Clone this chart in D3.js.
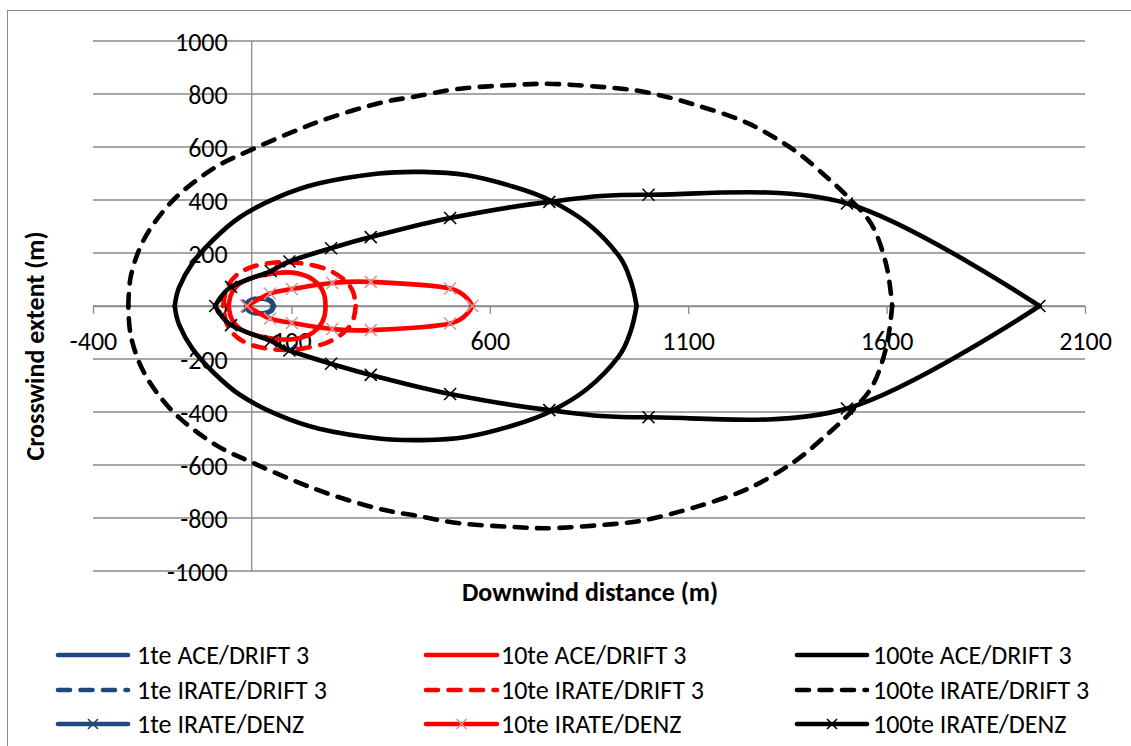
<!DOCTYPE html>
<html>
<head>
<meta charset="utf-8">
<script src="https://cdn.jsdelivr.net/npm/d3@7"></script>
<style>
  body { margin: 0; background: #fff; }
  svg { display: block; }
  text { font-family: Carlito, Lato, "Open Sans", sans-serif; fill: #000; }
</style>
</head>
<body>
<svg id="chart" width="1131" height="746"></svg>
<script>
// Axis ticks
const xTicks = [-400, 100, 600, 1100, 1600, 2100];
const yTicks = [-1000, -800, -600, -400, -200, 0, 200, 400, 600, 800, 1000];

// Hazard contours: [downwind distance (m), crosswind extent (m)], traced round each loop
const ace1 = [[-12,0],[-7,17],[8,26],[30,27],[47,18],[54,0],[47,-18],[30,-27],[8,-26],[-7,-17],[-12,0]];
const ace10 = [[-58,0],[-50,50],[-25,90],[20,114],[90,127],[140,112],[170,78],[183,40],[186,0],
               [183,-40],[170,-78],[140,-112],[90,-127],[20,-114],[-25,-90],[-50,-50],[-58,0]];
const ace100 = [[-194,0],[-183,70],[-150,160],[-97,250],[-30,335],[65,410],[170,463],[320,500],[430,506],
                [540,494],[660,450],[750,400],[845,313],[925,190],[955,95],[970,0],
                [955,-95],[925,-190],[845,-313],[750,-400],[660,-450],[540,-494],[430,-506],[320,-500],
                [170,-463],[65,-410],[-30,-335],[-97,-250],[-150,-160],[-183,-70],[-194,0]];

const irate1 = [[-13,0],[-8,18],[8,27],[31,28],[49,19],[56,0],[49,-19],[31,-28],[8,-27],[-8,-18],[-13,0]];
const irate10 = [[-72,0],[-62,70],[-35,120],[10,152],[70,165],[130,160],[190,138],[232,100],[255,55],[262,0],
                 [255,-55],[232,-100],[190,-138],[130,-160],[70,-165],[10,-152],[-35,-120],[-62,-70],[-72,0]];
const irate100 = [[-311,0],[-305,110],[-280,225],[-240,325],[-180,425],[-90,525],[0,590],[100,655],[200,712],
                  [320,765],[410,790],[525,820],[660,834],[760,838],[910,823],[1000,805],[1120,758],[1250,690],
                  [1365,590],[1450,485],[1510,400],[1565,300],[1600,150],[1614,0],
                  [1600,-150],[1565,-300],[1510,-400],[1450,-485],[1365,-590],[1250,-690],[1120,-758],[1000,-805],
                  [910,-823],[760,-838],[660,-834],[525,-820],[410,-790],[320,-765],[200,-712],[100,-655],
                  [0,-590],[-90,-525],[-180,-425],[-240,-325],[-280,-225],[-305,-110],[-311,0]];

const denz1 = [[-12,0],[-9,2],[-6,0],[-9,-2],[-12,0]];
const denz10 = [[-12,0],[46,47],[101,64],[203,87],[300,91],[500,66],[556,0],
                [500,-66],[300,-91],[203,-87],[101,-64],[46,-47],[-12,0]];
const denz100 = [[-92,0],[-52,72],[48,132],[95,168],[200,218],[300,260],[500,332],[750,393],[1000,420],
                 [1500,387],[1985,0],
                 [1500,-387],[1000,-420],[750,-393],[500,-332],[300,-260],[200,-218],[95,-168],[48,-132],
                 [-52,-72],[-92,0]];

const seriesNames = ["1te ACE/DRIFT 3", "10te ACE/DRIFT 3", "100te ACE/DRIFT 3",
                     "1te IRATE/DRIFT 3", "10te IRATE/DRIFT 3", "100te IRATE/DRIFT 3",
                     "1te IRATE/DENZ", "10te IRATE/DENZ", "100te IRATE/DENZ"];

const BLUE = "#1F497D", RED = "#FF0000", PINK = "#D99694", BLACK = "#000000";
const series = [
  { name: seriesNames[0], pts: ace1,     color: BLUE,  dashed: false, marker: null },
  { name: seriesNames[1], pts: ace10,    color: RED,   dashed: false, marker: null },
  { name: seriesNames[2], pts: ace100,   color: BLACK, dashed: false, marker: null },
  { name: seriesNames[3], pts: irate1,   color: BLUE,  dashed: true,  marker: null },
  { name: seriesNames[4], pts: irate10,  color: RED,   dashed: true,  marker: null },
  { name: seriesNames[5], pts: irate100, color: BLACK, dashed: true,  marker: null },
  { name: seriesNames[6], pts: denz1,    color: BLUE,  dashed: false, marker: BLUE },
  { name: seriesNames[7], pts: denz10,   color: RED,   dashed: false, marker: PINK },
  { name: seriesNames[8], pts: denz100,  color: BLACK, dashed: false, marker: BLACK }
];

const svg = d3.select("#chart");
const FONT = 26;
const GRID = "#8a8a8a";
const LW = 4.6;
const DASH = "12 10.5";
const numFmt = d => String(d);

// chart frame
svg.append("rect").attr("x", 7.5).attr("y", 10.5).attr("width", 1200).attr("height", 800)
  .attr("fill", "none").attr("stroke", GRID).attr("stroke-width", 1);

const x = d3.scaleLinear().domain([-400, 2100]).range([93, 1085]);
const y = d3.scaleLinear().domain([-1000, 1000]).range([571, 41]);

// horizontal gridlines
svg.append("g").selectAll("line").data(yTicks).join("line")
  .attr("x1", x(-400)).attr("x2", x(2100))
  .attr("y1", d => y(d)).attr("y2", d => y(d))
  .attr("stroke", GRID).attr("stroke-width", 1.3);

// vertical axis through x = 0
svg.append("line").attr("x1", x(0)).attr("x2", x(0)).attr("y1", y(1000)).attr("y2", y(-1000))
  .attr("stroke", GRID).attr("stroke-width", 1.3);

// horizontal axis through y = 0 with outward tick marks
const xAxis = d3.axisBottom(x).tickValues(xTicks).tickSize(8).tickSizeOuter(0).tickFormat(numFmt);
const gx = svg.append("g").attr("transform", `translate(0,${y(0)})`).call(xAxis);
gx.select(".domain").attr("stroke", GRID).attr("stroke-width", 1.3);
gx.selectAll(".tick line").attr("stroke", GRID).attr("stroke-width", 1.3);
gx.selectAll(".tick text").attr("font-size", FONT).attr("y", 35).attr("dy", "0.35em")
  .attr("font-family", "Carlito, Lato, sans-serif").attr("fill", "#000");

// vertical tick labels beside the x = 0 axis
const yAxis = d3.axisLeft(y).tickValues(yTicks).tickSize(0).tickFormat(numFmt);
const gy = svg.append("g").attr("transform", `translate(${x(0)},0)`).call(yAxis);
gy.select(".domain").remove();
gy.selectAll(".tick text").attr("font-size", FONT).attr("x", -24).attr("dy", "0.35em")
  .attr("font-family", "Carlito, Lato, sans-serif").attr("fill", "#000");

// axis titles
svg.append("text").attr("x", 590).attr("y", 592).attr("dy", "0.35em")
  .attr("text-anchor", "middle").attr("font-size", FONT).attr("font-weight", "bold")
  .text("Downwind distance (m)");
svg.append("text").attr("transform", "translate(35,346) rotate(-90)").attr("dy", "0.35em")
  .attr("text-anchor", "middle").attr("font-size", FONT).attr("font-weight", "bold")
  .text("Crosswind extent (m)");

// smoothed contour lines; each loop is drawn as two branches meeting at its downwind tip
const line = d3.line().x(d => x(d[0])).y(d => y(d[1])).curve(d3.curveCardinal.tension(0));
function branches(pts) {
  const tip = d3.maxIndex(pts, d => d[0]);
  return [pts.slice(0, tip + 1), pts.slice(tip)];
}
function cross(g, cx, cy, color, r) {
  g.append("path")
    .attr("d", `M${cx - r},${cy - r}L${cx + r},${cy + r}M${cx - r},${cy + r}L${cx + r},${cy - r}`)
    .attr("stroke", color).attr("stroke-width", 1.6).attr("fill", "none");
}

const plot = svg.append("g");
series.forEach(s => {
  const g = plot.append("g");
  branches(s.pts).forEach(b => {
    g.append("path").attr("d", line(b)).attr("fill", "none")
      .attr("stroke", s.color).attr("stroke-width", LW)
      .attr("stroke-linecap", "round").attr("stroke-linejoin", "round")
      .attr("stroke-dasharray", s.dashed ? DASH : null);
  });
  if (s.marker) {
    s.pts.slice(0, -1).forEach(p => cross(g, x(p[0]), y(p[1]), s.marker, 6));
  }
});

// legend: three columns (1te, 10te, 100te) by three rows
const legCols = [{ x0: 58, x1: 128, tx: 137 }, { x0: 426, x1: 497, tx: 501 }, { x0: 797, x1: 867, tx: 873 }];
const legRows = [655, 690, 724];
const leg = svg.append("g");
series.forEach((s, i) => {
  const c = legCols[i % 3], ry = legRows[Math.floor(i / 3)];
  leg.append("line").attr("x1", c.x0).attr("x2", c.x1).attr("y1", ry).attr("y2", ry)
    .attr("stroke", s.color).attr("stroke-width", LW).attr("stroke-linecap", "round")
    .attr("stroke-dasharray", s.dashed ? DASH : null);
  if (s.marker) cross(leg, (c.x0 + c.x1) / 2, ry, s.marker, 5);
  leg.append("text").attr("x", c.tx).attr("y", ry).attr("dy", "0.35em")
    .attr("font-size", FONT).text(s.name);
});
</script>
</body>
</html>
